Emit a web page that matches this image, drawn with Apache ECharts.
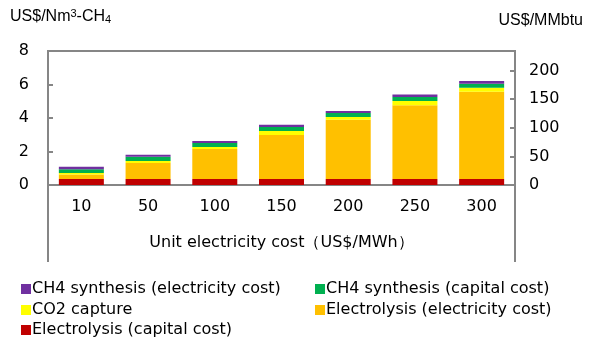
<!DOCTYPE html>
<html><head><meta charset="utf-8">
<script src="https://cdn.jsdelivr.net/npm/echarts@6/dist/echarts.min.js"></script>
<style>html,body{margin:0;padding:0;background:#fff}#c{width:590px;height:343px}</style>
</head><body><div id="c"></div>
<script>
const categories = ['10','50','100','150','200','250','300'];
const electrolysisCapital = [0.36,0.36,0.36,0.36,0.36,0.36,0.36];
const electrolysisElectricity = [0.26,0.96,1.79,2.63,3.54,4.40,5.21];
const co2Capture = [0.10,0.12,0.12,0.24,0.16,0.26,0.24];
const ch4Capital = [0.22,0.24,0.24,0.24,0.24,0.24,0.24];
const ch4Electricity = [0.15,0.12,0.12,0.13,0.12,0.14,0.16];
const leftTicks = {min:0,max:8,interval:2};
const rightTicks = {min:0,max:234.4,interval:50};

const FONT = '"Liberation Sans", Arial, sans-serif';
const WFONT = '"DejaVu Sans", "Liberation Sans", sans-serif';
const GRAY = '#868686';
const chart = echarts.init(document.getElementById('c'));
const mk = (name, data, color) => ({
  name, type:'bar', stack:'s', data, barWidth:45,
  itemStyle:{color}, emphasis:{disabled:true}
});
const legendItem = (name, left, top) => ({
  data:[name], left, top, itemWidth:10, itemHeight:10, icon:'rect', padding:0,
  textStyle:{fontSize:16,color:'#000',fontFamily:WFONT,padding:[0,0,0,-4]}
});
chart.setOption({
  animation:false,
  textStyle:{fontFamily:FONT},
  grid:{left:48,right:75,top:51,bottom:158},
  xAxis:{type:'category',data:categories,
    axisLine:{lineStyle:{color:GRAY,width:2}},axisTick:{show:false},
    axisLabel:{color:'#000',fontSize:16,margin:14,fontFamily:WFONT},
    name:'Unit electricity cost（US$/MWh）',nameLocation:'middle',nameGap:50,
    nameTextStyle:{color:'#000',fontSize:16,fontFamily:WFONT}},
  yAxis:[
    {type:'value',min:leftTicks.min,max:leftTicks.max,interval:leftTicks.interval,
     splitLine:{show:false},axisLine:{show:true,lineStyle:{color:GRAY,width:2}},
     axisTick:{show:true,inside:true,length:5,lineStyle:{color:GRAY,width:2}},
     axisLabel:{color:'#000',fontSize:16,margin:19,fontFamily:WFONT}},
    {type:'value',position:'right',min:rightTicks.min,max:rightTicks.max,interval:rightTicks.interval,
     splitLine:{show:false},axisLine:{show:true,lineStyle:{color:GRAY,width:2}},
     axisTick:{show:true,inside:true,length:5,lineStyle:{color:GRAY,width:2}},
     axisLabel:{color:'#000',fontSize:16,margin:14,showMaxLabel:false,fontFamily:WFONT}}
  ],
  legend:[
    legendItem('CH4 synthesis (electricity cost)',21,281),
    legendItem('CO2 capture',21,302),
    legendItem('Electrolysis (capital cost)',21,322),
    legendItem('CH4 synthesis (capital cost)',315,281),
    legendItem('Electrolysis (electricity cost)',315,302)
  ],
  graphic:[
    {type:'polyline',shape:{points:[[48,262],[48,51],[515,51],[515,262]]},
     style:{stroke:GRAY,lineWidth:2,fill:null},silent:true,z:-1},
    {type:'text',left:10,top:8,style:{
      text:'{a|US$/Nm}{s|3}{a|-CH}{b|4}',
      rich:{a:{fontSize:16,fontFamily:FONT,fill:'#000',verticalAlign:'bottom'},
            s:{fontSize:11,fontFamily:FONT,fill:'#000',verticalAlign:'top',padding:[0,0,6,0]},
            b:{fontSize:11,fontFamily:FONT,fill:'#000',verticalAlign:'bottom',padding:[6,0,0,0]}}}},
    {type:'text',right:7,top:13,style:{text:'US$/MMbtu',fontSize:16,fontFamily:FONT,fill:'#000'}}
  ],
  series:[
    mk('Electrolysis (capital cost)',electrolysisCapital,'#C00000'),
    mk('Electrolysis (electricity cost)',electrolysisElectricity,'#FFC000'),
    mk('CO2 capture',co2Capture,'#FFFF00'),
    mk('CH4 synthesis (capital cost)',ch4Capital,'#00B050'),
    mk('CH4 synthesis (electricity cost)',ch4Electricity,'#7030A0')
  ]
});
</script></body></html>
